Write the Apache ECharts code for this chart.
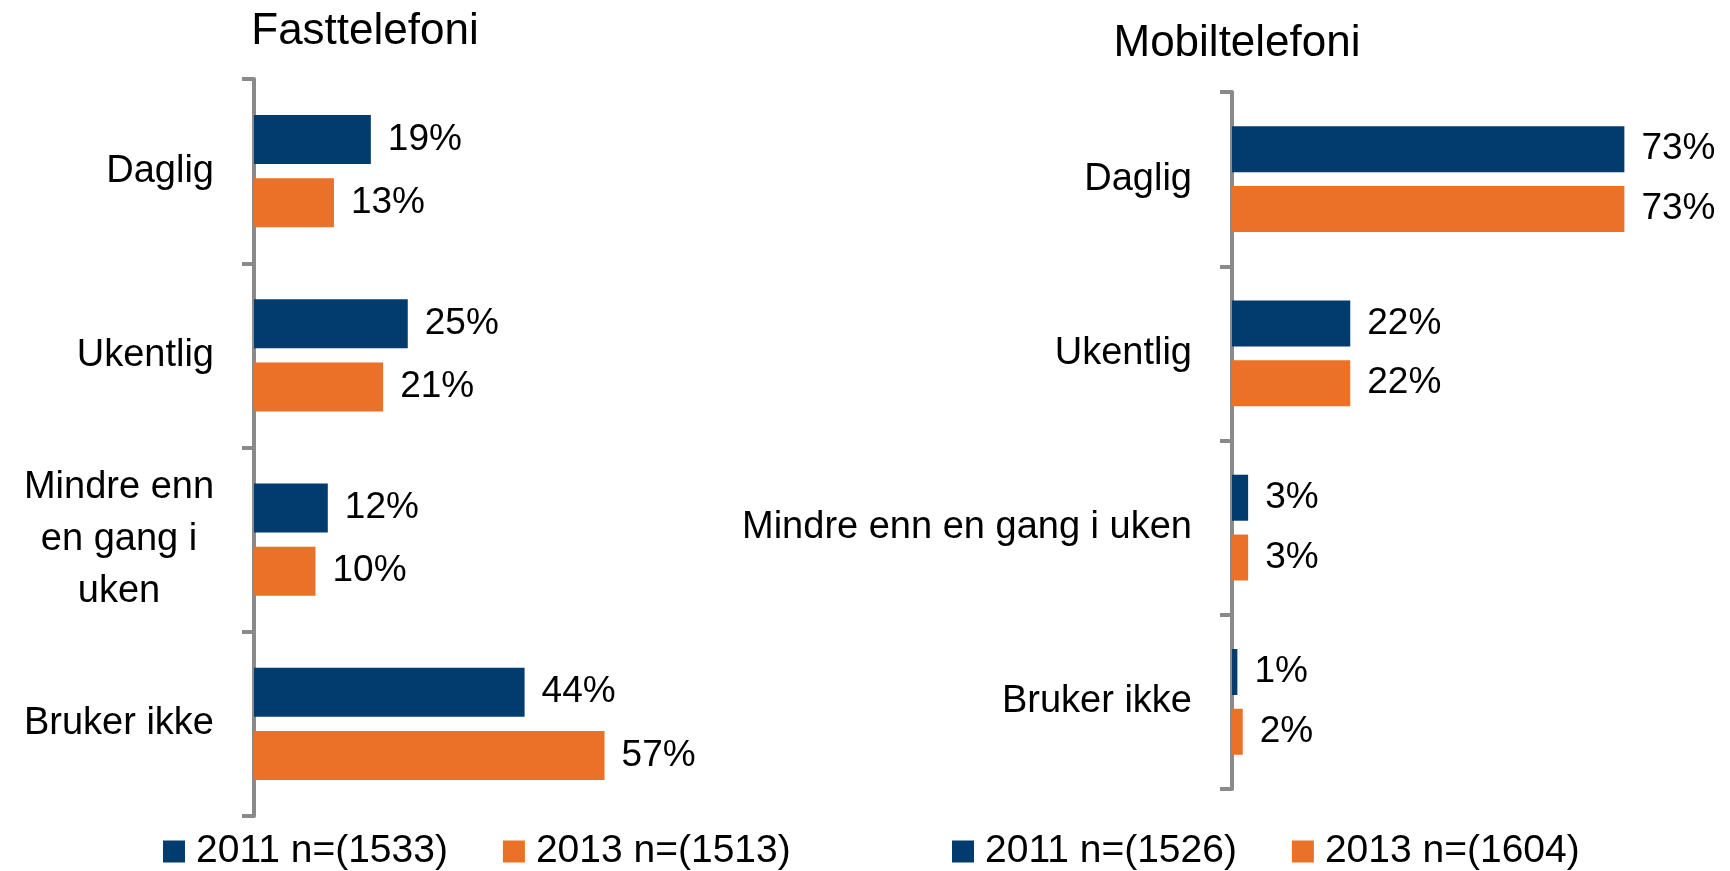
<!DOCTYPE html>
<html>
<head>
<meta charset="utf-8">
<script src="https://cdn.jsdelivr.net/npm/echarts@6/dist/echarts.min.js"></script>
<style>
  html, body { margin: 0; padding: 0; background: #fff; }
  #chart { width: 1730px; height: 871px; }
</style>
</head>
<body>
<div id="chart"></div>
<script>
const categories = ['Daglig', 'Ukentlig', 'Mindre enn en gang i uken', 'Bruker ikke'];
const fast2011 = [19, 25, 12, 44];
const fast2013 = [13, 21, 10, 57];
const mobil2011 = [73, 22, 3, 1];
const mobil2013 = [73, 22, 3, 2];
const seriesNames = ['2011 n=(1533)', '2013 n=(1513)', '2011 n=(1526)', '2013 n=(1604)'];

const FONT = "'Liberation Sans', Arial, sans-serif";
const NAVY = '#023b6d';
const ORANGE = '#eb7129';
const AXIS_GRAY = '#8a8a8a';

// wrap long category names into short lines, each line centred in its box
function wrapLabel(v) {
  if (v.length <= 12) return v;
  const lines = [];
  let cur = '';
  v.split(' ').forEach(w => {
    if (cur && (cur + ' ' + w).length > 10) {
      lines.push(cur);
      cur = w;
    } else {
      cur = cur ? cur + ' ' + w : w;
    }
  });
  if (cur) lines.push(cur);
  return lines.map(l => '{c|' + l + '}').join('\n');
}

function catAxis(gridIndex, wrap) {
  return {
    type: 'category',
    gridIndex: gridIndex,
    inverse: true,
    data: categories,
    axisLine: { show: true, lineStyle: { color: AXIS_GRAY, width: 4 } },
    axisTick: { show: true, length: 12, lineStyle: { color: AXIS_GRAY, width: 4 } },
    axisLabel: {
      color: '#000',
      fontFamily: FONT,
      fontSize: 38,
      margin: 40,
      formatter: wrap ? wrapLabel : null,
      rich: {
        c: { width: 190, align: 'center', fontSize: 38, fontFamily: FONT, color: '#000', lineHeight: 52 }
      }
    }
  };
}

function valAxis(gridIndex, max) {
  return {
    type: 'value',
    gridIndex: gridIndex,
    min: 0,
    max: max,
    show: false,
    splitLine: { show: false }
  };
}

function barSeries(name, data, color, idx, width, gap) {
  return {
    name: name,
    type: 'bar',
    xAxisIndex: idx,
    yAxisIndex: idx,
    data: data,
    barWidth: width,
    barGap: gap,
    itemStyle: { color: color },
    label: {
      show: true,
      position: 'right',
      distance: 17,
      formatter: '{c}%',
      color: '#000',
      fontFamily: FONT,
      fontSize: 37
    }
  };
}

const chart = echarts.init(document.getElementById('chart'));
chart.setOption({
  animation: false,
  title: [
    { text: 'Fasttelefoni', left: 360, top: 5, textAlign: 'center',
      textStyle: { fontFamily: FONT, fontSize: 44, fontWeight: 'normal', color: '#000' } },
    { text: 'Mobiltelefoni', left: 1232, top: 17, textAlign: 'center',
      textStyle: { fontFamily: FONT, fontSize: 44, fontWeight: 'normal', color: '#000' } }
  ],
  grid: [
    { left: 254, top: 79, width: 615, height: 737 },
    { left: 1232, top: 92, width: 430, height: 697 }
  ],
  xAxis: [valAxis(0, 100), valAxis(1, 80)],
  yAxis: [catAxis(0, true), catAxis(1, false)],
  legend: [
    { data: [seriesNames[0], seriesNames[1]], left: 158, top: 827, icon: 'rect',
      itemWidth: 22, itemHeight: 22, itemGap: 55,
      textStyle: { fontFamily: FONT, fontSize: 39, color: '#000', padding: [0, 0, 0, 6] } },
    { data: [seriesNames[2], seriesNames[3]], left: 947, top: 827, icon: 'rect',
      itemWidth: 22, itemHeight: 22, itemGap: 55,
      textStyle: { fontFamily: FONT, fontSize: 39, color: '#000', padding: [0, 0, 0, 6] } }
  ],
  series: [
    barSeries(seriesNames[0], fast2011, NAVY, 0, 49, '29%'),
    barSeries(seriesNames[1], fast2013, ORANGE, 0, 49, '29%'),
    barSeries(seriesNames[2], mobil2011, NAVY, 1, 46, '30%'),
    barSeries(seriesNames[3], mobil2013, ORANGE, 1, 46, '30%')
  ]
});
</script>
</body>
</html>
